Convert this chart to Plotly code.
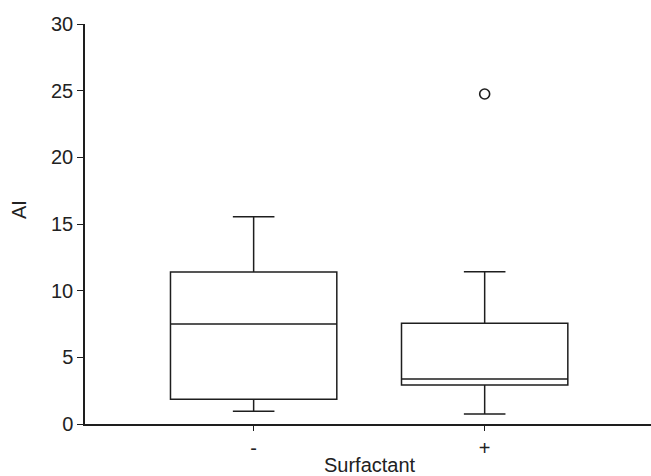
import plotly.graph_objects as go

categories = ["-", "+"]
x_pos = [0, 1]
lower_whisker = [0.95, 0.75]
q1 = [1.85, 2.93]
median = [7.5, 3.37]
q3 = [11.4, 7.55]
upper_whisker = [15.55, 11.42]
outlier_x = [1]
outlier_y = [24.75]

FONT = "Liberation Sans, Arial, sans-serif"
LINE = "#1e1e1e"

fig = go.Figure()
fig.add_trace(go.Box(
    x=x_pos, q1=q1, median=median, q3=q3,
    lowerfence=lower_whisker, upperfence=upper_whisker,
    width=0.72, whiskerwidth=0.25,
    fillcolor="white", line=dict(color=LINE, width=1.5),
    boxpoints=False, showlegend=False, hoverinfo="skip",
))
fig.add_trace(go.Scatter(
    x=outlier_x, y=outlier_y, mode="markers",
    marker=dict(symbol="circle-open", size=10, color=LINE, line=dict(width=1.6)),
    showlegend=False,
))

fig.update_layout(
    width=651, height=476,
    margin=dict(l=85, r=0, t=24, b=52),
    plot_bgcolor="white", paper_bgcolor="white",
    font=dict(family=FONT, size=20, color="#222"),
    xaxis=dict(
        range=[-0.73, 1.72], tickvals=x_pos, ticktext=categories,
        showline=True, linecolor=LINE, linewidth=1.5,
        ticks="outside", ticklen=5, tickcolor=LINE, tickwidth=1.2,
        showgrid=False, zeroline=False, automargin=False,
        tickfont=dict(size=20),
    ),
    yaxis=dict(
        range=[0, 30], tickvals=[0, 5, 10, 15, 20, 25, 30],
        showline=True, linecolor=LINE, linewidth=1.5,
        ticks="outside", ticklen=6, tickcolor=LINE, tickwidth=1.2,
        showgrid=False, zeroline=False, automargin=False,
        tickfont=dict(size=20),
    ),
    annotations=[
        dict(text="Surfactant", xref="paper", yref="paper", x=0.504, y=0,
             xanchor="center", yanchor="middle", yshift=-41, showarrow=False,
             font=dict(size=20)),
        dict(text="AI", xref="paper", yref="paper", x=0, y=0.535,
             xanchor="center", yanchor="middle", xshift=-66, textangle=-90,
             showarrow=False, font=dict(size=20)),
    ],
)

fig.write_html(
    "out.html",
    config={"displayModeBar": False},
    post_script="document.body.style.margin='0';document.body.style.padding='0';",
)
